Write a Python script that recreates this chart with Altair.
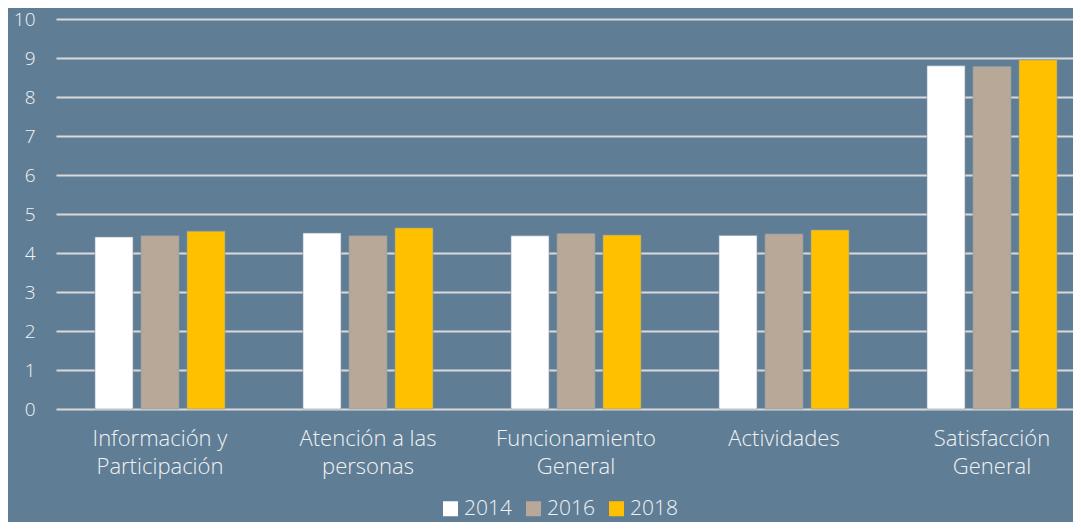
import altair as alt
import pandas as pd

categories = ["Información y|Participación", "Atención a las|personas", "Funcionamiento|General", "Actividades", "Satisfacción|General"]
years = ["2014", "2016", "2018"]
v2014 = [4.41, 4.51, 4.44, 4.45, 8.80]
v2016 = [4.44, 4.44, 4.50, 4.49, 8.78]
v2018 = [4.56, 4.64, 4.46, 4.59, 8.95]
colors = ["#ffffff", "#b8a898", "#ffc000"]
y_ticks = list(range(0, 11))

rows = []
for i, c in enumerate(categories):
    for y, vals in zip(years, [v2014, v2016, v2018]):
        rows.append({"cat": c, "year": y, "value": vals[i]})
df = pd.DataFrame(rows)

FONT = "Open Sans"
TXT = "#f2f2f2"

chart = alt.Chart(df).mark_bar(stroke="#8a9aa8", strokeWidth=0.6).encode(
    x=alt.X("cat:N", sort=categories, title=None,
            scale=alt.Scale(paddingInner=0.375, paddingOuter=0.1322, align=0.709),
            axis=alt.Axis(labelExpr="split(datum.label, '|')", labelAngle=0,
                          labelFont=FONT, labelFontSize=22, labelFontWeight=300,
                          labelColor=TXT, labelLineHeight=28, labelPadding=19,
                          ticks=False, domain=False, labelBaseline="top")),
    xOffset=alt.XOffset("year:N", sort=years,
                        scale=alt.Scale(paddingInner=0.1739, paddingOuter=0)),
    y=alt.Y("value:Q", title=None,
            scale=alt.Scale(domain=[0, 10], nice=False),
            axis=alt.Axis(values=y_ticks, grid=True, gridColor="#d9d9d9", gridWidth=2,
                          ticks=False, domain=False, labelPadding=21,
                          labelFont=FONT, labelFontSize=19, labelFontWeight=300,
                          labelColor=TXT)),
    color=alt.Color("year:N", sort=years,
                    scale=alt.Scale(domain=years, range=colors),
                    legend=alt.Legend(title=None, orient="none", direction="horizontal",
                                      legendX=384, legendY=479,
                                      symbolType="square", symbolSize=225,
                                      symbolStrokeWidth=0, symbolOpacity=1,
                                      labelFont=FONT, labelFontSize=21, labelFontWeight=300,
                                      labelColor=TXT, labelOffset=3, columnPadding=11)),
).properties(
    width=1017, height=390,
    background="#5f7e96",
    padding={"left": 48, "top": 11, "right": 0, "bottom": 113},
    autosize=alt.AutoSizeParams(type="none"),
).configure_view(stroke=None)

chart.save("out.html", embed_options={"renderer": "svg", "actions": False})
